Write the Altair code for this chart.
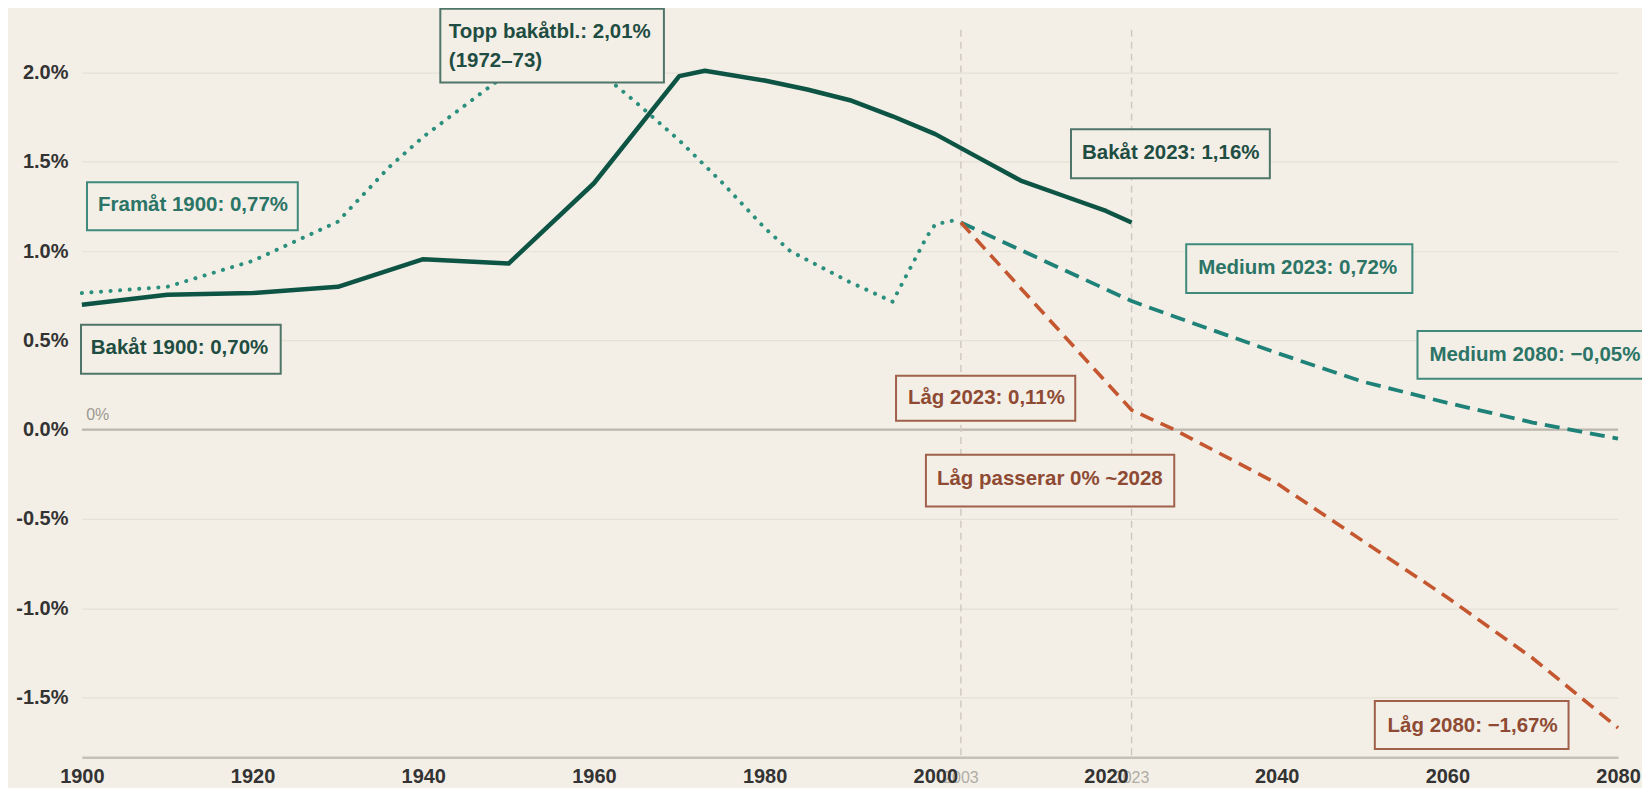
import altair as alt
import pandas as pd

# ---------------- data ----------------
bakat_years = [1900, 1910, 1920, 1930, 1940, 1950, 1960, 1970, 1973, 1980, 1985, 1990,
               1995, 2000, 2005, 2010, 2015, 2020, 2023]
bakat_vals = [0.70, 0.755, 0.765, 0.80, 0.955, 0.93, 1.38, 1.98, 2.01, 1.955, 1.905, 1.845,
              1.755, 1.655, 1.525, 1.395, 1.31, 1.225, 1.16]

framat_years = [1900, 1910, 1920, 1930, 1936, 1940, 1950, 1955, 1960, 1965, 1970, 1975,
                1980, 1983, 1990, 1995, 1999, 2000, 2002, 2003]
framat_vals = [0.765, 0.80, 0.945, 1.165, 1.47, 1.64, 2.0, 2.15, 2.03, 1.83, 1.62, 1.385,
               1.13, 1.0, 0.826, 0.717, 1.08, 1.15, 1.17, 1.16]

medium_years = [2003, 2023, 2030, 2040, 2050, 2060, 2070, 2080]
medium_vals = [1.16, 0.72, 0.60, 0.43, 0.27, 0.15, 0.04, -0.05]

lag_years = [2003, 2023, 2028, 2030, 2040, 2050, 2060, 2070, 2080]
lag_vals = [1.16, 0.11, 0.0, -0.05, -0.30, -0.62, -0.94, -1.28, -1.67]

x_ticks = [1900, 1920, 1940, 1960, 1980, 2000, 2020, 2040, 2060, 2080]
y_ticks = [-1.5, -1.0, -0.5, 0.0, 0.5, 1.0, 1.5, 2.0]
marker_years = [2003, 2023]
marker_labels = ["2003", "2023"]

# annotation texts
ann_texts = ["Topp bakåtbl.: 2,01%", "(1972–73)", "Framåt 1900: 0,77%", "Bakåt 1900: 0,70%",
             "Bakåt 2023: 1,16%", "Medium 2023: 0,72%", "Medium 2080: −0,05%",
             "Låg 2023: 0,11%", "Låg passerar 0% ~2028", "Låg 2080: −1,67%"]
ann_kind = ["dark", "dark", "teal", "dark", "dark", "teal", "teal", "low", "low", "low"]

# ---------------- annotation placement (data units) ----------------
ann_x = [1943.0, 1943.0, 1901.9, 1901.05, 2017.2, 2030.8, 2057.9, 1996.8, 2000.2, 2053.0]
ann_y = [2.226, 2.064, 1.257, 0.458, 1.547, 0.905, 0.419, 0.179, -0.279, -1.659]

box_kind = ["dark", "teal", "dark", "dark", "teal", "teal", "low", "low", "low"]
box_x0 = [1942.0, 1900.6, 1899.9, 2015.9, 2029.4, 2056.5, 1995.4, 1998.9, 2051.5]
box_x1 = [1968.2, 1925.3, 1923.3, 2039.2, 2055.9, 2084.6, 2016.4, 2028.0, 2074.2]
box_y0 = [1.944, 1.117, 0.313, 1.408, 0.765, 0.285, 0.050, -0.430, -1.788]
box_y1 = [2.357, 1.385, 0.587, 1.682, 1.039, 0.553, 0.302, -0.140, -1.520]

# ---------------- styles ----------------
BG = "#f3efe7"
C_SOLID = "#0d5444"
C_DOT = "#2a8f7d"
C_MED = "#1f8278"
C_LOW = "#c4572f"
TEXT_COL = {"dark": "#1f4d42", "teal": "#2b7466", "low": "#8e4a33"}
BOX_COL = {"dark": "#4f7569", "teal": "#3f8a7c", "low": "#a0604a"}
FONT = "Liberation Sans"

X_DOM = [1900, 2080]
Y_DOM = [-1.835, 2.24]

xs = alt.Scale(domain=X_DOM, nice=False, zero=False)
ys = alt.Scale(domain=Y_DOM, nice=False, zero=False)

bakat = pd.DataFrame({"year": bakat_years, "v": bakat_vals})
framat = pd.DataFrame({"year": framat_years, "v": framat_vals})
medium = pd.DataFrame({"year": medium_years, "v": medium_vals})
lag = pd.DataFrame({"year": lag_years, "v": lag_vals})

x_axis = alt.Axis(values=x_ticks, format="d", title=None, labelFontSize=20, labelFontWeight="bold",
                  labelColor="#333333", labelFont=FONT, ticks=False, domain=True,
                  domainColor="#c6c1b7", domainWidth=2.5, grid=False, labelPadding=9, zindex=1,
                  labelFlush=False, labelOverlap=False)
y_axis = alt.Axis(values=y_ticks, title=None, labelFontSize=20, labelFontWeight="bold",
                  labelColor="#333333", labelFont=FONT, ticks=False, domain=False,
                  grid=True, gridColor="#e6e1d6", gridWidth=1.2, labelPadding=14,
                  labelExpr="replace(format(datum.value, '.1f'), '\u2212', '-') + '%'")

base_grid = alt.Chart(pd.DataFrame({"v": y_ticks})).mark_rule(opacity=0).encode(
    y=alt.Y("v:Q", scale=ys, axis=y_axis)
)

zero_df = pd.DataFrame({"v": [0.0]})
zero_line = alt.Chart(zero_df).mark_rule(color="#bdb8ae", strokeWidth=2.2).encode(
    y=alt.Y("v:Q", scale=ys)
)
zero_label = alt.Chart(pd.DataFrame({"x": [1900.5], "v": [0.08], "t": ["0%"]})).mark_text(
    align="left", baseline="middle", fontSize=16, color="#9c9890", font=FONT
).encode(x=alt.X("x:Q", scale=xs), y=alt.Y("v:Q", scale=ys), text="t:N")

markers = pd.DataFrame({"year": marker_years, "t": marker_labels, "ly": [-1.95, -1.95]})
marker_rules = alt.Chart(markers).mark_rule(color="#cfcac1", strokeWidth=1.5, strokeDash=[7, 5]).encode(
    x=alt.X("year:Q", scale=xs, axis=x_axis)
)
marker_text = alt.Chart(markers).mark_text(
    align="center", baseline="middle", fontSize=16, color="#b0aca4", font=FONT
).encode(x=alt.X("year:Q", scale=xs), y=alt.Y("ly:Q", scale=ys), text="t:N")

line_bakat = alt.Chart(bakat).mark_line(color=C_SOLID, strokeWidth=4.5, strokeJoin="round").encode(
    x=alt.X("year:Q", scale=xs), y=alt.Y("v:Q", scale=ys)
)
line_framat = alt.Chart(framat).mark_line(color=C_DOT, strokeWidth=4, strokeDash=[0.1, 9.5],
                                          strokeCap="round").encode(
    x=alt.X("year:Q", scale=xs), y=alt.Y("v:Q", scale=ys)
)
line_medium = alt.Chart(medium).mark_line(color=C_MED, strokeWidth=3.8, strokeDash=[15, 8]).encode(
    x=alt.X("year:Q", scale=xs), y=alt.Y("v:Q", scale=ys)
)
line_lag = alt.Chart(lag).mark_line(color=C_LOW, strokeWidth=3.6, strokeDash=[14, 8]).encode(
    x=alt.X("year:Q", scale=xs), y=alt.Y("v:Q", scale=ys)
)

boxes = pd.DataFrame({"x0": box_x0, "x1": box_x1, "y0": box_y0, "y1": box_y1,
                      "sc": [BOX_COL[k] for k in box_kind]})
box_layer = alt.Chart(boxes).mark_rect(fill=BG, strokeWidth=2).encode(
    x=alt.X("x0:Q", scale=xs), x2="x1:Q",
    y=alt.Y("y0:Q", scale=ys), y2="y1:Q",
    stroke=alt.Stroke("sc:N", scale=None)
)

anns = pd.DataFrame({"x": ann_x, "y": ann_y, "t": ann_texts,
                     "tc": [TEXT_COL[k] for k in ann_kind]})
ann_layer = alt.Chart(anns).mark_text(
    align="left", baseline="middle", fontSize=20.5, fontWeight="bold", font=FONT
).encode(
    x=alt.X("x:Q", scale=xs), y=alt.Y("y:Q", scale=ys), text="t:N",
    color=alt.Color("tc:N", scale=None)
)

chart = alt.layer(
    base_grid, zero_line, marker_rules, marker_text, zero_label,
    line_framat, line_bakat, line_medium, line_lag,
    box_layer, ann_layer
).properties(
    width=1539, height=729,
    autosize=alt.AutoSizeParams(type="none"),
    padding={"left": 74, "top": 21, "right": 24, "bottom": 30},
    background=BG
).configure_view(stroke=None)

chart.save("out.html", embed_options={"renderer": "svg", "actions": False})
